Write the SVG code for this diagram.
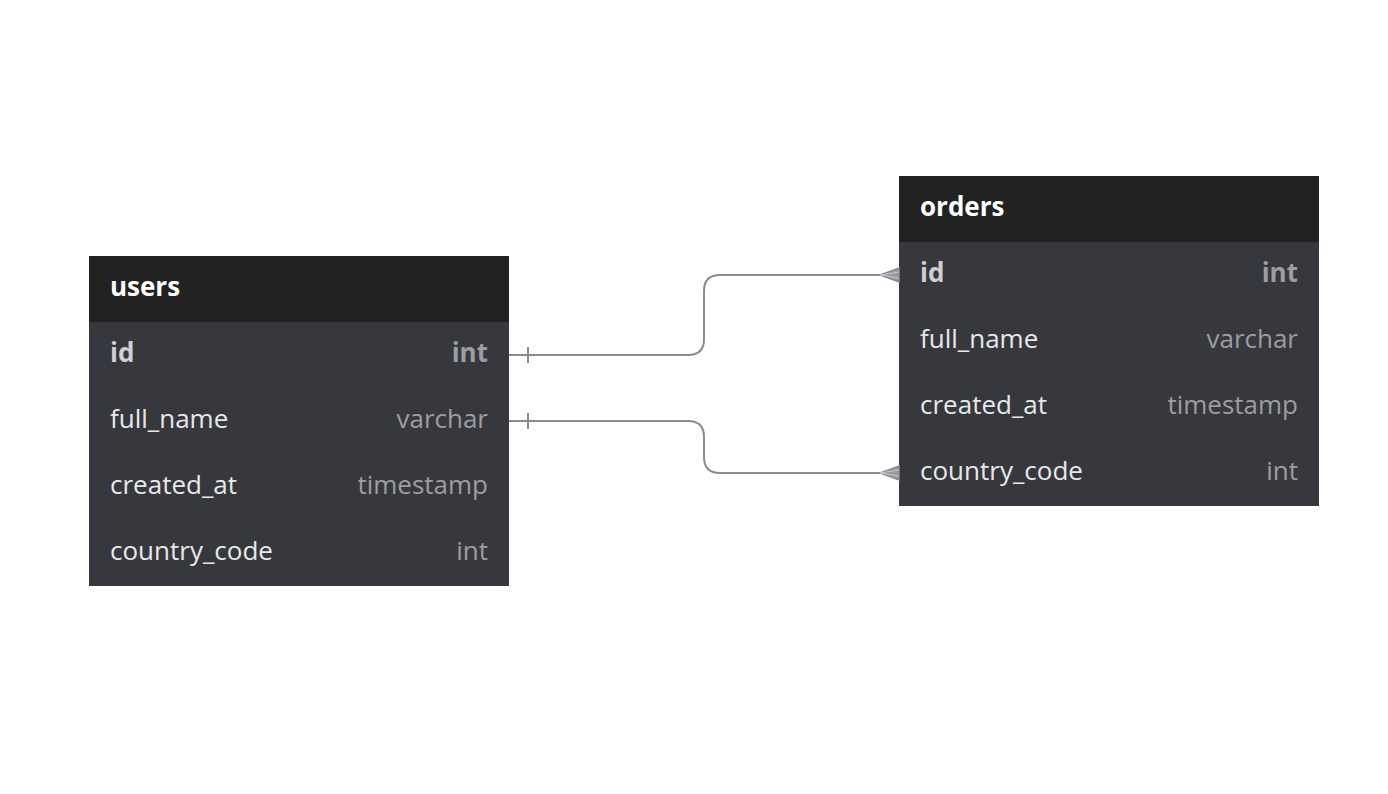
<svg xmlns="http://www.w3.org/2000/svg" width="1388" height="794" viewBox="0 0 1388 794">
<style>
.hdr{fill:#222222}
.body{fill:#37383d}
.title{font-family:"Open Sans",sans-serif;font-size:26px;font-weight:700;fill:#ffffff}
.col{font-family:"Open Sans",sans-serif;font-size:26px;fill:#e8e8ea}
.typ{font-family:"Open Sans",sans-serif;font-size:26px;fill:#9d9da3;text-anchor:end}
.pk{font-weight:700}
.pkc{fill:#cfcfd4}
.conn{fill:none;stroke:#8a8a92;stroke-width:2}
</style>
<defs>
<marker id="one" markerWidth="40" markerHeight="20" viewBox="-10 -10 40 20" refX="0" refY="0" orient="auto" markerUnits="userSpaceOnUse">
<line x1="19" y1="-8" x2="19" y2="8" stroke="#8a8a92" stroke-width="2"/>
</marker>
<marker id="many" markerWidth="40" markerHeight="20" viewBox="-30 -10 40 20" refX="0" refY="0" orient="auto" markerUnits="userSpaceOnUse">
<path d="M-19 0 L0 -7 L0 7 Z" fill="#9a9aa2" stroke="#8a8a92" stroke-width="1.5"/>
<path d="M-19 0 L0 -3 M-19 0 L0 3" stroke="#c8c8cc" stroke-width="1"/>
</marker>
</defs>
<rect width="1388" height="794" fill="#ffffff"/>
<g id="users">
<rect class="hdr" x="89" y="256" width="420" height="66"/>
<rect class="body" x="89" y="322" width="420" height="264"/>
<text class="title" x="110" y="296">users</text>
<text class="col pk pkc" x="110" y="362">id</text>
<text class="typ pk" x="488" y="362">int</text>
<text class="col" x="110" y="428">full_name</text>
<text class="typ" x="488" y="428">varchar</text>
<text class="col" x="110" y="494">created_at</text>
<text class="typ" x="488" y="494">timestamp</text>
<text class="col" x="110" y="560">country_code</text>
<text class="typ" x="488" y="560">int</text>
</g>
<g id="orders">
<rect class="hdr" x="899" y="176" width="420" height="66"/>
<rect class="body" x="899" y="242" width="420" height="264"/>
<text class="title" x="920" y="216">orders</text>
<text class="col pk pkc" x="920" y="282">id</text>
<text class="typ pk" x="1298" y="282">int</text>
<text class="col" x="920" y="348">full_name</text>
<text class="typ" x="1298" y="348">varchar</text>
<text class="col" x="920" y="414">created_at</text>
<text class="typ" x="1298" y="414">timestamp</text>
<text class="col" x="920" y="480">country_code</text>
<text class="typ" x="1298" y="480">int</text>
</g>
<g id="connectors">
<path class="conn" d="M509 355 L688 355 Q704 355 704 339 L704 291 Q704 275 720 275 L899 275" marker-start="url(#one)" marker-end="url(#many)"/>
<path class="conn" d="M509 421 L688 421 Q704 421 704 437 L704 457 Q704 473 720 473 L899 473" marker-start="url(#one)" marker-end="url(#many)"/>
</g>
</svg>
